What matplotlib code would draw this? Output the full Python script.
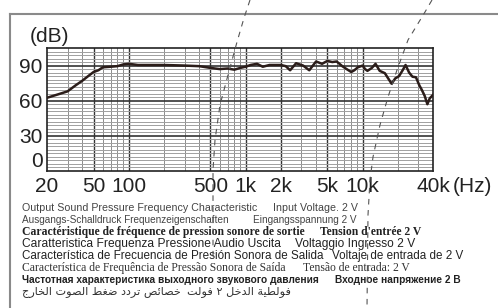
import matplotlib.pyplot as plt
from matplotlib.lines import Line2D

# frequency response
freq = [20, 25, 30, 35, 40, 45, 50, 55, 60, 70, 80, 90, 100, 120, 150, 200, 300, 400,
        500, 600, 700, 800, 900, 1000, 1100, 1250, 1400, 1600, 2000, 2200, 2400, 2700,
        3100, 3500, 4000, 4500, 5000, 5500, 6000, 6700, 7300, 8000, 8500, 9100, 10000,
        10500, 11000, 12000, 12900, 14000, 15500, 17700, 19000, 20500, 22000, 23300,
        25000, 26700, 28600, 30600, 32000, 34000, 35800, 37500, 40000]
spl = [62.5, 65.5, 68, 73, 77, 81, 84.5, 86, 88.5, 89, 89.5, 91, 91.5, 90.5, 90.5, 90.5,
       90, 89.5, 88, 87, 87.5, 86.5, 88, 89, 90.5, 91.5, 89, 90.5, 90.5, 89.5, 86, 92,
       90, 86, 93.5, 91.5, 94, 93, 93.5, 89.5, 87, 84.5, 86, 88.5, 90, 87, 85.5, 88,
       91.5, 85.5, 83.5, 74.5, 79, 81, 86, 90.5, 84, 80.5, 80, 73, 69.5, 64, 57, 62, 65]

xticks = [20, 50, 100, 500, 1000, 2000, 5000, 10000, 40000]
xlabels = ['20', '50', '100', '500', '1k', '2k', '5k', '10k', '40k']
yticks = [0, 30, 60, 90]

caption_left = [
    'Output Sound Pressure Frequency Characteristic',
    'Ausgangs-Schalldruck Frequenzeigenschaften',
    'Caractéristique de fréquence de pression sonore de sortie',
    'Caratteristica Frequenza Pressione Audio Uscita',
    'Característica de Frecuencia de Presión Sonora de Salida',
    'Característica de Frequência de Pressão Sonora de Saída',
    'Частотная характеристика выходного звукового давления',
    'خصائص تردد ضغط الصوت الخارج',
]
caption_right = [
    'Input Voltage. 2 V',
    'Eingangsspannung 2 V',
    "Tension d'entrée 2 V",
    'Voltaggio Ingresso 2 V',
    'Voltaje de entrada de 2 V',
    'Tensão de entrada: 2 V',
    'Входное напряжение 2 В',
    'فولطية الدخل ٢ فولت',
]

# minimal arabic shaping (presentation forms, laid out right to left by hand)
AR = {
    'ا': ('\uFE8D', '\uFE8E', None, None),
    'ئ': ('\uFE89', '\uFE8A', '\uFE8B', '\uFE8C'),
    'ت': ('\uFE95', '\uFE96', '\uFE97', '\uFE98'),
    'ة': ('\uFE93', '\uFE94', None, None),
    'ج': ('\uFE9D', '\uFE9E', '\uFE9F', '\uFEA0'),
    'خ': ('\uFEA5', '\uFEA6', '\uFEA7', '\uFEA8'),
    'د': ('\uFEA9', '\uFEAA', None, None),
    'ر': ('\uFEAD', '\uFEAE', None, None),
    'ص': ('\uFEB9', '\uFEBA', '\uFEBB', '\uFEBC'),
    'ض': ('\uFEBD', '\uFEBE', '\uFEBF', '\uFEC0'),
    'ط': ('\uFEC1', '\uFEC2', '\uFEC3', '\uFEC4'),
    'غ': ('\uFECD', '\uFECE', '\uFECF', '\uFED0'),
    'ف': ('\uFED1', '\uFED2', '\uFED3', '\uFED4'),
    'ل': ('\uFEDD', '\uFEDE', '\uFEDF', '\uFEE0'),
    'و': ('\uFEED', '\uFEEE', None, None),
    'ي': ('\uFEF1', '\uFEF2', '\uFEF3', '\uFEF4'),
}


def shape_word(w):
    out = []
    for i, c in enumerate(w):
        if c not in AR:
            out.append(c)
            continue
        prev = w[i - 1] if i > 0 else None
        nxt = w[i + 1] if i + 1 < len(w) else None
        jp = prev in AR and AR[prev][2] is not None
        jn = AR[c][2] is not None and nxt in AR
        iso, fin, ini, med = AR[c]
        out.append(med if (jp and jn) else fin if jp else ini if jn else iso)
    return ''.join(reversed(out))


def shape(s):
    return ' '.join(shape_word(w) for w in reversed(s.split()))


W, H = 498, 308
fig = plt.figure(figsize=(W / 100, H / 100), dpi=100)
fig.patch.set_facecolor('white')
num_font = ['Liberation Sans Narrow', 'Liberation Sans', 'DejaVu Sans']

ax = fig.add_axes([47 / W, 1 - 171 / H, (433 - 47) / W, (171 - 48) / H])
ax.set_xscale('log')
ax.set_xlim(20, 40000)
ax.set_ylim(0, 105)

# grid
for e in range(1, 5):
    for m in range(1, 10):
        f = m * 10 ** e
        if 20 < f < 40000:
            major = f in xticks
            ax.axvline(f, color='#333333' if major else '#8c8c8c',
                       lw=1.0 if major else 0.7, zorder=1)
for d in range(3, 105, 3):
    major = d in yticks
    ax.axhline(d, color='#333333' if major else '#a0a0a0',
               lw=1.2 if major else 0.7, zorder=1)

ax.plot(freq, spl, color='#2b1d1a', lw=1.8, zorder=3)

for s in ax.spines.values():
    s.set_color('#222222')
    s.set_linewidth(1.2)

ax.set_xticks(xticks)
ax.set_xticklabels(xlabels)
ax.set_xticks([], minor=True)
ax.set_yticks(yticks)
ax.set_yticklabels([str(v) for v in yticks])
ax.tick_params(length=0, labelsize=15, colors='#222222', pad=4)
ax.tick_params(axis='y', pad=3)
for lab in ax.get_xticklabels() + ax.get_yticklabels():
    lab.set_family(num_font)
ax.get_yticklabels()[0].set_verticalalignment('bottom')

fig.text(30 / W, 1 - 36 / H, '(dB)', fontsize=15, family=num_font,
         color='#222222', va='center', ha='left')
fig.text(453 / W, 1 - 186 / H, '(Hz)', fontsize=15, family=num_font,
         color='#222222', va='center', ha='left')

# page frame
fig.add_artist(Line2D([10 / W, 1], [1 - 14 / H] * 2, color='#8a8a8a', lw=1.5))
fig.add_artist(Line2D([10 / W] * 2, [1 - 14 / H, 0], color='#8a8a8a', lw=1.5))

# dashed cut lines crossing the page
cut_a = [(250, 0), (244, 18), (237, 42), (228, 75), (220, 105), (215, 140),
         (213, 170), (213, 262)]
cut_b = [(432, 0), (425, 12), (408, 40), (397, 70), (388, 97), (380, 125),
         (373, 157), (370, 180), (368, 215), (367, 308)]
for pts in (cut_a, cut_b):
    fig.add_artist(Line2D([p[0] / W for p in pts], [1 - p[1] / H for p in pts],
                          color='#555555', lw=0.8, ls=(0, (5, 5)), zorder=5))

# caption: size of each row fitted from its left part
renderer = fig.canvas.get_renderer()

rows_y = [208, 220, 232, 244, 256, 268, 280, 292]
left_end = [253, 230, 307, 280, 322, 288, 315, 181]
right_start = [273, 253, 320, 295, 332, 303, 335, 187]
styles = [
    dict(family='Liberation Sans', color='#444444'),
    dict(family='Liberation Sans', color='#444444'),
    dict(family='Liberation Serif', color='#222222', weight='bold'),
    dict(family='Liberation Sans', color='#222222'),
    dict(family='Liberation Sans', color='#222222'),
    dict(family='Liberation Serif', color='#333333'),
    dict(family='Liberation Sans', color='#222222', weight='bold'),
    dict(family='DejaVu Sans', color='#333333'),
]
for i, y in enumerate(rows_y):
    a, b = caption_left[i], caption_right[i]
    if i == 7:
        a, b = shape(a), shape(b)
    t = fig.text(22 / W, 1 - y / H, a, va='center', ha='left', fontsize=7, **styles[i])
    size = 7 * (left_end[i] - 22) / t.get_window_extent(renderer).width
    t.set_fontsize(size)
    fig.text(right_start[i] / W, 1 - y / H, b, va='center', ha='left',
             fontsize=size, **styles[i])

fig.savefig('out.png', dpi=100, facecolor='white')
